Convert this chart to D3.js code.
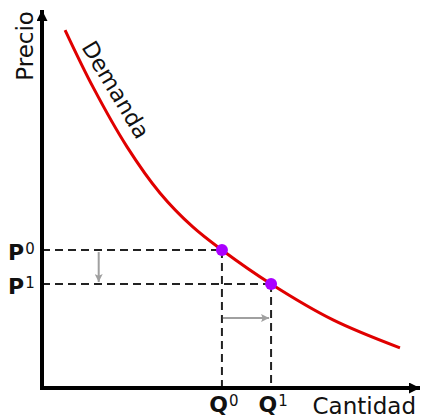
<!DOCTYPE html>
<html>
<head>
<meta charset="utf-8">
<script src="https://cdn.jsdelivr.net/npm/d3@7"></script>
<style>
  html, body { margin: 0; padding: 0; background: #fff; }
  text { font-family: "DejaVu Sans", sans-serif; }
</style>
</head>
<body>
<div id="chart"></div>
<script>
// Demand curve points (quantity, price)
const demandQ = [6.1, 13.5, 22.5, 31.2, 39.9, 47.6, 60.6, 77.0, 94.7];
const demandP = [94.7, 79.6, 63.8, 51.6, 42.6, 36.5, 27.5, 18.0, 10.6];

// Before / after equilibrium
const eqLabels = ['0', '1'];
const eqQ = [47.6, 60.6];
const eqP = [36.5, 27.5];

const width = 422, height = 420;
const x = d3.scaleLinear().domain([0, 100]).range([42, 420]);
const y = d3.scaleLinear().domain([0, 100]).range([388, 10]);

const svg = d3.select('#chart').append('svg')
    .attr('width', width)
    .attr('height', height);

const defs = svg.append('defs');
defs.append('marker')
    .attr('id', 'axisHead')
    .attr('viewBox', '0 0 10 10')
    .attr('refX', 10).attr('refY', 5)
    .attr('markerWidth', 11).attr('markerHeight', 11)
    .attr('markerUnits', 'userSpaceOnUse')
    .attr('orient', 'auto')
  .append('path')
    .attr('d', 'M0,0L10,5L0,10Z')
    .attr('fill', '#000');
defs.append('marker')
    .attr('id', 'grayHead')
    .attr('viewBox', '0 0 10 10')
    .attr('refX', 10).attr('refY', 5)
    .attr('markerWidth', 10).attr('markerHeight', 8)
    .attr('markerUnits', 'userSpaceOnUse')
    .attr('orient', 'auto')
  .append('path')
    .attr('d', 'M0,0L10,5L0,10L2,5Z')
    .attr('fill', '#a0a0a0');

// Dashed guides from each equilibrium to the axes
const guides = svg.append('g')
    .attr('stroke', '#222')
    .attr('stroke-width', 2)
    .attr('stroke-dasharray', '8,5')
    .attr('fill', 'none');
eqQ.forEach((q, i) => {
  guides.append('line')
      .attr('x1', x(0)).attr('x2', x(q))
      .attr('y1', y(eqP[i])).attr('y2', y(eqP[i]));
  guides.append('line')
      .attr('x1', x(q)).attr('x2', x(q))
      .attr('y1', y(eqP[i])).attr('y2', y(0));
});

// Gray shift arrows
svg.append('line')
    .attr('x1', x(15)).attr('x2', x(15))
    .attr('y1', y(eqP[0]) + 2).attr('y2', y(eqP[1]) - 2)
    .attr('stroke', '#a0a0a0').attr('stroke-width', 2)
    .attr('marker-end', 'url(#grayHead)');
svg.append('line')
    .attr('x1', x(eqQ[0]) + 1).attr('x2', x(eqQ[1]) - 2)
    .attr('y1', y(18.5)).attr('y2', y(18.5))
    .attr('stroke', '#a0a0a0').attr('stroke-width', 2)
    .attr('marker-end', 'url(#grayHead)');

// Demand curve
const line = d3.line()
    .x(d => x(d[0]))
    .y(d => y(d[1]))
    .curve(d3.curveCatmullRom);
svg.append('path')
    .datum(d3.zip(demandQ, demandP))
    .attr('d', line)
    .attr('fill', 'none')
    .attr('stroke', '#e00000')
    .attr('stroke-width', 3);

// Equilibrium points
svg.append('g').selectAll('circle')
  .data(d3.zip(eqQ, eqP))
  .join('circle')
    .attr('cx', d => x(d[0]))
    .attr('cy', d => y(d[1]))
    .attr('r', 6)
    .attr('fill', '#aa00ff');

// Axes with arrow heads
svg.append('line')
    .attr('x1', x(0)).attr('y1', y(0) + 2)
    .attr('x2', x(0)).attr('y2', y(100))
    .attr('stroke', '#000').attr('stroke-width', 4)
    .attr('marker-end', 'url(#axisHead)');
svg.append('line')
    .attr('x1', x(0) - 2).attr('y1', y(0))
    .attr('x2', x(100)).attr('y2', y(0))
    .attr('stroke', '#000').attr('stroke-width', 4)
    .attr('marker-end', 'url(#axisHead)');

// Axis titles
svg.append('text')
    .attr('transform', `translate(${x(0) - 9},${y(90.5)}) rotate(-90)`)
    .attr('text-anchor', 'middle')
    .attr('font-size', 23)
    .attr('fill', '#111')
    .text('Precio');
svg.append('text')
    .attr('x', 416).attr('y', 414)
    .attr('text-anchor', 'end')
    .attr('font-size', 23)
    .attr('fill', '#111')
    .text('Cantidad');

// Curve label
svg.append('text')
    .attr('transform', `translate(${x(10.3)},${y(90.2)}) rotate(59)`)
    .attr('font-size', 22.5)
    .attr('fill', '#111')
    .text('Demanda');

// P and Q labels with superscripts
eqLabels.forEach((s, i) => {
  const pt = svg.append('text')
      .attr('x', 8).attr('y', y(eqP[i]) + 9.5)
      .attr('font-size', 22)
      .attr('fill', '#111');
  pt.append('tspan').attr('font-weight', 'bold').text('P');
  pt.append('tspan').attr('font-size', 15).attr('dx', 1).attr('dy', -6).text(s);

  const qt = svg.append('text')
      .attr('x', x(eqQ[i]) + 2).attr('y', 412)
      .attr('text-anchor', 'middle')
      .attr('font-size', 22)
      .attr('fill', '#111');
  qt.append('tspan').attr('font-weight', 'bold').text('Q');
  qt.append('tspan').attr('font-size', 15).attr('dx', 1).attr('dy', -6).text(s);
});
</script>
</body>
</html>
